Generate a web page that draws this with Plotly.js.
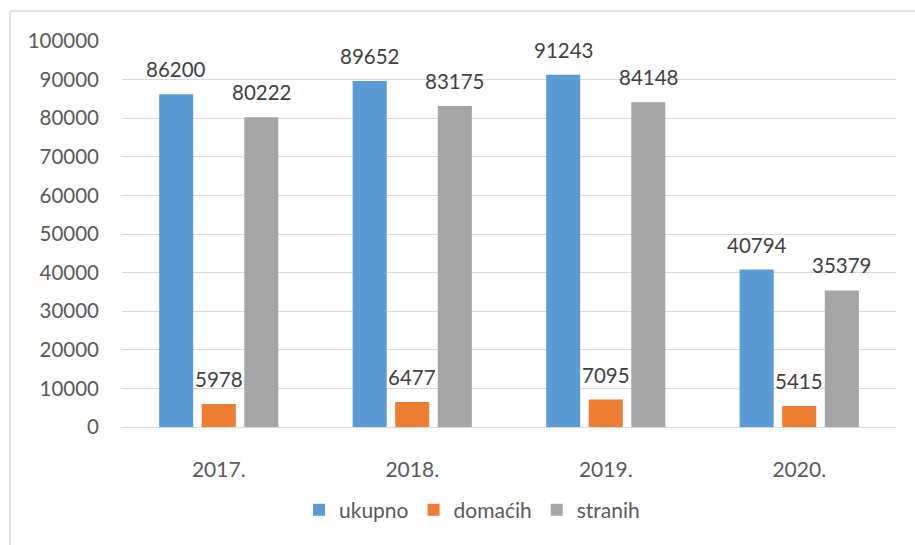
<!DOCTYPE html>
<html>
<head>
<meta charset="utf-8">
<script src="https://cdn.plot.ly/plotly-3.0.1.min.js"></script>
<style>html,body{margin:0;padding:0;background:#fff;}#chart{width:915px;height:545px;}</style>
</head>
<body>
<div id="chart"></div>
<script>
const categories = ["2017.", "2018.", "2019.", "2020."];
const seriesNames = ["ukupno", "domaćih", "stranih"];
const ukupno = [86200, 89652, 91243, 40794];
const domacih = [5978, 6477, 7095, 5415];
const stranih = [80222, 83175, 84148, 35379];
const colors = ["#5B9BD5", "#ED7D31", "#A5A5A5"];
const yTicks = [0, 10000, 20000, 30000, 40000, 50000, 60000, 70000, 80000, 90000, 100000];

const BARGAP = 0.34, BARGROUPGAP = 0.2;
const seriesValues = [ukupno, domacih, stranih];
const traces = seriesValues.map((vals, i) => ({
  type: "bar",
  name: seriesNames[i],
  x: categories,
  y: vals,
  marker: {color: colors[i]},
  hoverinfo: "none"
}));

// value labels placed through the axes (category index + group offset)
const nS = seriesValues.length;
const slot = (1 - BARGAP) / nS;
const annotations = [];
seriesValues.forEach((vals, i) => {
  vals.forEach((v, j) => {
    annotations.push({
      xref: "x", yref: "y",
      x: j + (i - (nS - 1) / 2) * slot,
      y: v,
      text: String(v),
      showarrow: false,
      xanchor: "center", yanchor: "bottom",
      yshift: 11,
      font: {family: "Lato, sans-serif", size: 20.5, color: "#404040"}
    });
  });
});

const L = 122, R = 19, T = 41, B = 118, W = 915, H = 545;
const pw = W - L - R, ph = H - T - B;
const px = v => (v - L) / pw;
const py = v => (H - B - v) / ph;

const layout = {
  width: W, height: H,
  margin: {l: L, r: R, t: T, b: B, pad: 0},
  paper_bgcolor: "#ffffff",
  plot_bgcolor: "#ffffff",
  font: {family: "Lato, sans-serif", color: "#595959", size: 19},
  barmode: "group",
  bargap: BARGAP,
  bargroupgap: BARGROUPGAP,
  showlegend: true,
  legend: {
    orientation: "h", x: px(472), xanchor: "center", y: py(510), yanchor: "middle",
    font: {size: 21, color: "#595959"}, itemwidth: 30, tracegroupgap: 0
  },
  xaxis: {
    type: "category",
    showgrid: false,
    showline: true, linecolor: "#d9d9d9", linewidth: 1,
    ticks: "", ticklabelstandoff: 24,
    tickfont: {size: 21, color: "#595959"},
    fixedrange: true
  },
  yaxis: {
    range: [0, 100000],
    tickvals: yTicks,
    ticktext: yTicks.map(String),
    showgrid: true, gridcolor: "#d9d9d9", gridwidth: 1,
    zeroline: false, showline: false,
    ticks: "", ticklabelstandoff: 22,
    tickfont: {size: 20.5, color: "#595959"},
    fixedrange: true
  },
  annotations: annotations,
  shapes: [
    {type: "line", xref: "paper", yref: "paper", x0: px(10), x1: px(10), y0: py(545), y1: py(11), line: {color: "#d9d9d9", width: 1.5}},
    {type: "line", xref: "paper", yref: "paper", x0: px(10), x1: px(915), y0: py(11), y1: py(11), line: {color: "#d9d9d9", width: 1.5}}
  ]
};

Plotly.newPlot("chart", traces, layout, {displayModeBar: false, staticPlot: true});
</script>
</body>
</html>
